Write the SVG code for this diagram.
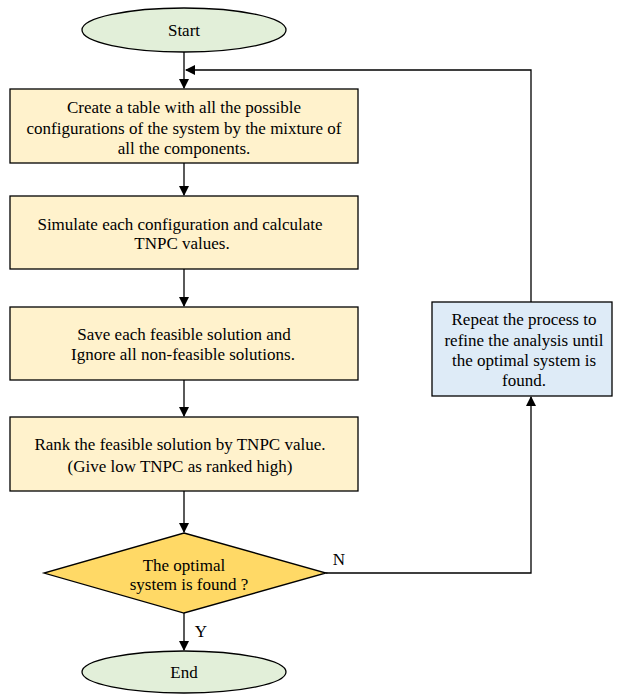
<svg xmlns="http://www.w3.org/2000/svg" width="624" height="695" viewBox="0 0 624 695" font-family="Times New Roman, Liberation Serif, serif">
<defs>
<style>
.box{fill:#FFF2CC;stroke:#000;stroke-width:1.3}
.term{fill:#E2EFD9;stroke:#000;stroke-width:1.3}
.dec{fill:#FFD966;stroke:#000;stroke-width:1.3}
.blue{fill:#DEEBF7;stroke:#000;stroke-width:1.3}
.c{fill:none;stroke:#000;stroke-width:1.3}
</style>
<marker id="ah" markerWidth="10" markerHeight="10" refX="9" refY="5" orient="auto" markerUnits="userSpaceOnUse">
<path d="M0,0 L10,5 L0,10 Z" fill="#000"/>
</marker>
</defs>
<rect width="624" height="695" fill="#fff"/>
<g id="connectors">
<line class="c" x1="184" y1="52" x2="184" y2="88" marker-end="url(#ah)"/>
<line class="c" x1="184" y1="163" x2="184" y2="195" marker-end="url(#ah)"/>
<line class="c" x1="184" y1="269" x2="184" y2="306" marker-end="url(#ah)"/>
<line class="c" x1="184" y1="380" x2="184" y2="416" marker-end="url(#ah)"/>
<line class="c" x1="184" y1="491" x2="184" y2="532" marker-end="url(#ah)"/>
<line class="c" x1="184" y1="613" x2="184" y2="650" marker-end="url(#ah)"/>
<polyline class="c" points="326,573 531,573 531,397" marker-end="url(#ah)"/>
<polyline class="c" points="531,302 531,70 186,70" marker-end="url(#ah)"/>
<text font-family="Times New Roman" font-size="17" text-anchor="middle" x="339" y="565">N</text>
<text font-family="Times New Roman" font-size="17" text-anchor="middle" x="201" y="637">Y</text>
</g>
<g id="start">
<ellipse class="term" cx="184" cy="30" rx="102" ry="22"/>
<text font-family="Times New Roman" font-size="17" text-anchor="middle" x="184" y="36">Start</text>
</g>
<g id="step1">
<rect class="box" x="10" y="89" width="348" height="74"/>
<text font-family="Times New Roman" font-size="17" text-anchor="middle" x="184" y="113">Create a table with all the possible</text>
<text font-family="Times New Roman" font-size="17" text-anchor="middle" x="184" y="134">configurations of the system by the mixture of</text>
<text font-family="Times New Roman" font-size="17" text-anchor="middle" x="184" y="154">all the components.</text>
</g>
<g id="step2">
<rect class="box" x="10" y="196" width="348" height="73"/>
<text font-family="Times New Roman" font-size="17" text-anchor="middle" x="180" y="230">Simulate each configuration and calculate</text>
<text font-family="Times New Roman" font-size="17" text-anchor="middle" x="182" y="249">TNPC values.</text>
</g>
<g id="step3">
<rect class="box" x="10" y="307" width="348" height="73"/>
<text font-family="Times New Roman" font-size="17" text-anchor="middle" x="184" y="340">Save each feasible solution and</text>
<text font-family="Times New Roman" font-size="17" text-anchor="middle" x="183" y="360">Ignore all non-feasible solutions.</text>
</g>
<g id="step4">
<rect class="box" x="10" y="417" width="348" height="74"/>
<text font-family="Times New Roman" font-size="17" text-anchor="middle" x="180" y="450">Rank the feasible solution by TNPC value.</text>
<text font-family="Times New Roman" font-size="17" text-anchor="middle" x="180" y="472">(Give low TNPC as ranked high)</text>
</g>
<g id="decision">
<polygon class="dec" points="184,533 326,573 184,613 44,573"/>
<text font-family="Times New Roman" font-size="17" text-anchor="middle" x="184" y="571">The optimal</text>
<text font-family="Times New Roman" font-size="17" text-anchor="middle" x="189" y="590">system is found ?</text>
</g>
<g id="repeat">
<rect class="blue" x="432" y="302" width="180" height="94"/>
<text font-family="Times New Roman" font-size="17" text-anchor="middle" x="524" y="325">Repeat the process to</text>
<text font-family="Times New Roman" font-size="17" text-anchor="middle" x="524" y="346">refine the analysis until</text>
<text font-family="Times New Roman" font-size="17" text-anchor="middle" x="524" y="366">the optimal system is</text>
<text font-family="Times New Roman" font-size="17" text-anchor="middle" x="524" y="386">found.</text>
</g>
<g id="end">
<ellipse class="term" cx="184" cy="672" rx="102" ry="21"/>
<text font-family="Times New Roman" font-size="17" text-anchor="middle" x="184" y="678">End</text>
</g>
</svg>
